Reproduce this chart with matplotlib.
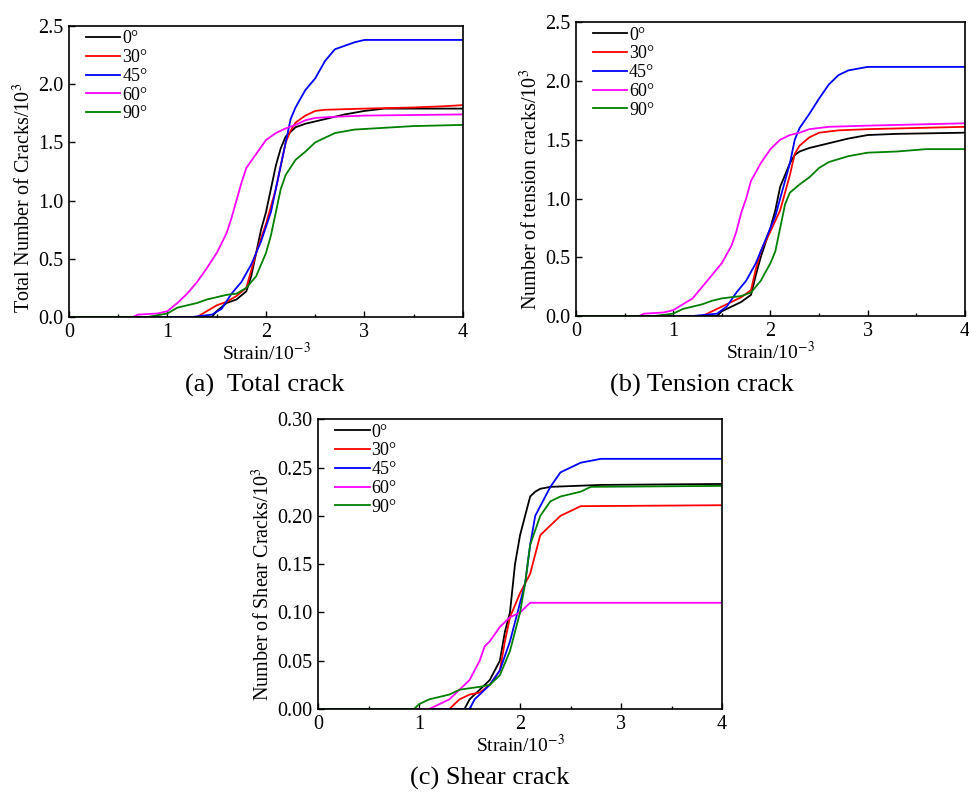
import matplotlib
matplotlib.use("Agg")
import matplotlib.pyplot as plt
from matplotlib.ticker import MultipleLocator

plt.rcParams["font.family"] = ["Liberation Serif", "DejaVu Serif"]
plt.rcParams["mathtext.fontset"] = "stix"

# ── Data (strain /1e-3, count /1e3) ─────────────────────────────────────────
angles = ["0°", "30°", "45°", "60°", "90°"]
colors = ["black", "#ff0000", "#0000ff", "#ff00ff", "#008000"]

# (a) total cracks
total_x = [
    [0, 1.45, 1.5, 1.6, 1.7, 1.8, 1.85, 1.9, 1.95, 2.0, 2.05, 2.1, 2.15, 2.2, 2.3, 2.4, 2.5, 2.6, 2.8, 3.0, 3.2, 4.0],
    [0, 1.3, 1.4, 1.5, 1.6, 1.7, 1.8, 1.85, 1.9, 2.0, 2.1, 2.15, 2.2, 2.25, 2.3, 2.4, 2.5, 2.6, 3.0, 3.5, 3.8, 4.0],
    [0, 1.25, 1.45, 1.55, 1.65, 1.75, 1.85, 1.95, 2.05, 2.1, 2.15, 2.2, 2.25, 2.3, 2.4, 2.5, 2.6, 2.7, 2.8, 2.9, 3.0, 4.0],
    [0, 0.65, 0.7, 0.9, 1.0, 1.1, 1.2, 1.3, 1.4, 1.5, 1.6, 1.65, 1.7, 1.75, 1.8, 1.9, 2.0, 2.1, 2.2, 2.3, 2.4, 2.5, 2.7, 3.0, 4.0],
    [0, 0.8, 1.0, 1.1, 1.3, 1.4, 1.5, 1.6, 1.7, 1.8, 1.9, 2.0, 2.05, 2.1, 2.15, 2.2, 2.3, 2.4, 2.5, 2.6, 2.7, 2.9, 3.1, 3.5, 4.0],
]
total_y = [
    [0, 0, 0.05, 0.12, 0.15, 0.22, 0.35, 0.55, 0.75, 0.9, 1.1, 1.3, 1.45, 1.55, 1.63, 1.66, 1.68, 1.70, 1.74, 1.77, 1.79, 1.79],
    [0, 0, 0.05, 0.10, 0.13, 0.18, 0.25, 0.40, 0.55, 0.8, 1.1, 1.3, 1.5, 1.6, 1.67, 1.73, 1.77, 1.78, 1.79, 1.80, 1.81, 1.82],
    [0, 0, 0.02, 0.07, 0.2, 0.3, 0.45, 0.65, 0.9, 1.1, 1.3, 1.5, 1.7, 1.8, 1.95, 2.05, 2.2, 2.3, 2.33, 2.36, 2.38, 2.38],
    [0, 0, 0.02, 0.03, 0.05, 0.12, 0.2, 0.3, 0.42, 0.55, 0.72, 0.85, 1.0, 1.15, 1.28, 1.4, 1.52, 1.58, 1.62, 1.65, 1.69, 1.71, 1.72, 1.73, 1.74],
    [0, 0, 0.03, 0.08, 0.12, 0.15, 0.17, 0.19, 0.2, 0.25, 0.35, 0.55, 0.7, 0.9, 1.1, 1.22, 1.35, 1.42, 1.5, 1.54, 1.58, 1.61, 1.62, 1.64, 1.65],
]

# (b) tension cracks
tension_x = [
    [0, 1.45, 1.5, 1.6, 1.7, 1.8, 1.85, 1.9, 2.0, 2.05, 2.1, 2.15, 2.2, 2.25, 2.3, 2.4, 2.6, 2.8, 3.0, 3.3, 4.0],
    [0, 1.3, 1.4, 1.5, 1.6, 1.7, 1.8, 1.85, 1.9, 2.0, 2.1, 2.15, 2.2, 2.25, 2.3, 2.4, 2.5, 2.7, 3.0, 3.5, 4.0],
    [0, 1.2, 1.45, 1.55, 1.65, 1.75, 1.85, 1.95, 2.05, 2.15, 2.2, 2.25, 2.3, 2.4, 2.5, 2.6, 2.7, 2.8, 3.0, 4.0],
    [0, 0.65, 0.7, 0.9, 1.0, 1.1, 1.2, 1.3, 1.4, 1.5, 1.6, 1.65, 1.7, 1.75, 1.8, 1.9, 2.0, 2.1, 2.2, 2.3, 2.4, 2.6, 3.0, 3.5, 4.0],
    [0, 0.8, 1.0, 1.1, 1.3, 1.4, 1.5, 1.7, 1.8, 1.9, 2.0, 2.05, 2.1, 2.15, 2.2, 2.3, 2.4, 2.5, 2.6, 2.8, 3.0, 3.3, 3.6, 4.0],
]
tension_y = [
    [0, 0, 0.04, 0.08, 0.12, 0.18, 0.35, 0.5, 0.75, 0.9, 1.1, 1.2, 1.3, 1.37, 1.40, 1.43, 1.47, 1.51, 1.54, 1.55, 1.56],
    [0, 0, 0.04, 0.08, 0.12, 0.16, 0.22, 0.4, 0.55, 0.72, 0.9, 1.05, 1.2, 1.38, 1.45, 1.52, 1.56, 1.58, 1.59, 1.60, 1.61],
    [0, 0, 0.02, 0.08, 0.2, 0.3, 0.45, 0.65, 0.85, 1.15, 1.3, 1.5, 1.6, 1.72, 1.85, 1.97, 2.05, 2.09, 2.12, 2.12],
    [0, 0, 0.02, 0.03, 0.05, 0.1, 0.15, 0.25, 0.35, 0.45, 0.6, 0.72, 0.88, 1.0, 1.15, 1.3, 1.42, 1.5, 1.54, 1.56, 1.59, 1.61, 1.62, 1.63, 1.64],
    [0, 0, 0.02, 0.06, 0.1, 0.13, 0.15, 0.17, 0.2, 0.3, 0.45, 0.55, 0.75, 0.95, 1.05, 1.12, 1.18, 1.26, 1.31, 1.36, 1.39, 1.40, 1.42, 1.42],
]

# (c) shear cracks
shear_x = [
    [0, 1.45, 1.5, 1.6, 1.7, 1.8, 1.85, 1.9, 1.95, 2.0, 2.05, 2.1, 2.15, 2.2, 2.3, 2.8, 4.0],
    [0, 1.3, 1.4, 1.5, 1.6, 1.7, 1.8, 1.85, 1.9, 2.0, 2.1, 2.15, 2.2, 2.3, 2.4, 2.5, 2.6, 4.0],
    [0, 1.5, 1.55, 1.6, 1.7, 1.8, 1.9, 2.0, 2.05, 2.1, 2.15, 2.2, 2.3, 2.4, 2.5, 2.6, 2.8, 4.0],
    [0, 1.1, 1.2, 1.3, 1.4, 1.5, 1.6, 1.65, 1.7, 1.8, 1.9, 2.0, 2.1, 4.0],
    [0, 0.95, 1.0, 1.1, 1.3, 1.4, 1.6, 1.7, 1.8, 1.9, 2.0, 2.05, 2.1, 2.2, 2.3, 2.4, 2.6, 2.7, 4.0],
]
shear_y = [
    [0, 0, 0.01, 0.02, 0.03, 0.05, 0.08, 0.1, 0.15, 0.18, 0.2, 0.22, 0.225, 0.228, 0.23, 0.232, 0.233],
    [0, 0, 0.01, 0.015, 0.017, 0.025, 0.04, 0.07, 0.095, 0.12, 0.14, 0.16, 0.18, 0.19, 0.2, 0.205, 0.21, 0.211],
    [0, 0, 0.01, 0.015, 0.025, 0.04, 0.07, 0.11, 0.13, 0.17, 0.2, 0.21, 0.23, 0.245, 0.25, 0.255, 0.259, 0.259],
    [0, 0, 0.005, 0.01, 0.02, 0.03, 0.05, 0.065, 0.07, 0.085, 0.095, 0.1, 0.11, 0.11],
    [0, 0, 0.005, 0.01, 0.015, 0.02, 0.023, 0.025, 0.035, 0.06, 0.1, 0.13, 0.17, 0.2, 0.215, 0.22, 0.225, 0.23, 0.231],
]

panels = [
    # rect, xs, ys, ylim, ystep, ylabel, ylabel y, yfmt, caption, caption xy
    ([0.0712, 0.6008, 0.4066, 0.3665], total_x, total_y, 2.5, 0.5,
     "Total Number of Cracks/10$^3$", 0.41, "{:.1f}", "(a)  Total crack", (0.273, 0.515)),
    ([0.5944, 0.6020, 0.4014, 0.3700], tension_x, tension_y, 2.5, 0.5,
     "Number of tension cracks/10$^3$", 0.43, "{:.1f}", "(b) Tension crack", (0.724, 0.515)),
    ([0.3282, 0.1070, 0.4170, 0.3650], shear_x, shear_y, 0.30, 0.05,
     "Number of Shear Cracks/10$^3$", 0.43, "{:.2f}", "(c) Shear crack", (0.505, 0.020)),
]

fig = plt.figure(figsize=(9.69, 7.94), dpi=100)

for rect, xs, ys, ymax, ystep, ylabel, ly, yfmt, caption, cxy in panels:
    ax = fig.add_axes(rect)
    for x, y, c, lab in zip(xs, ys, colors, angles):
        ax.plot(x, y, color=c, linewidth=1.3, label=lab)
    ax.set_xlim(0, 4)
    ax.set_ylim(0, ymax)
    ax.xaxis.set_major_locator(MultipleLocator(1))
    ax.xaxis.set_minor_locator(MultipleLocator(0.5))
    ax.yaxis.set_major_locator(MultipleLocator(ystep))
    ax.set_yticklabels([yfmt.format(v) for v in ax.get_yticks()])
    ax.tick_params(direction="in", labelsize=14.5, length=4, width=1, pad=4)
    ax.tick_params(which="minor", direction="in", length=2.5, width=1)
    for s in ax.spines.values():
        s.set_linewidth(1.2)
    ax.set_xlabel("Strain/10$^{-3}$", fontsize=14, labelpad=0)
    ax.set_ylabel(ylabel, fontsize=14.5, labelpad=2)
    ax.yaxis.label.set_y(ly)
    ax.legend(loc="upper left", frameon=False, fontsize=13, handlelength=1.9,
              handletextpad=0.1, labelspacing=0.1, borderaxespad=0.0,
              bbox_to_anchor=(0.025, 1.01))
    fig.text(cxy[0], cxy[1], caption, fontsize=19, ha="center", va="center")

fig.savefig("out.png", dpi=100)
